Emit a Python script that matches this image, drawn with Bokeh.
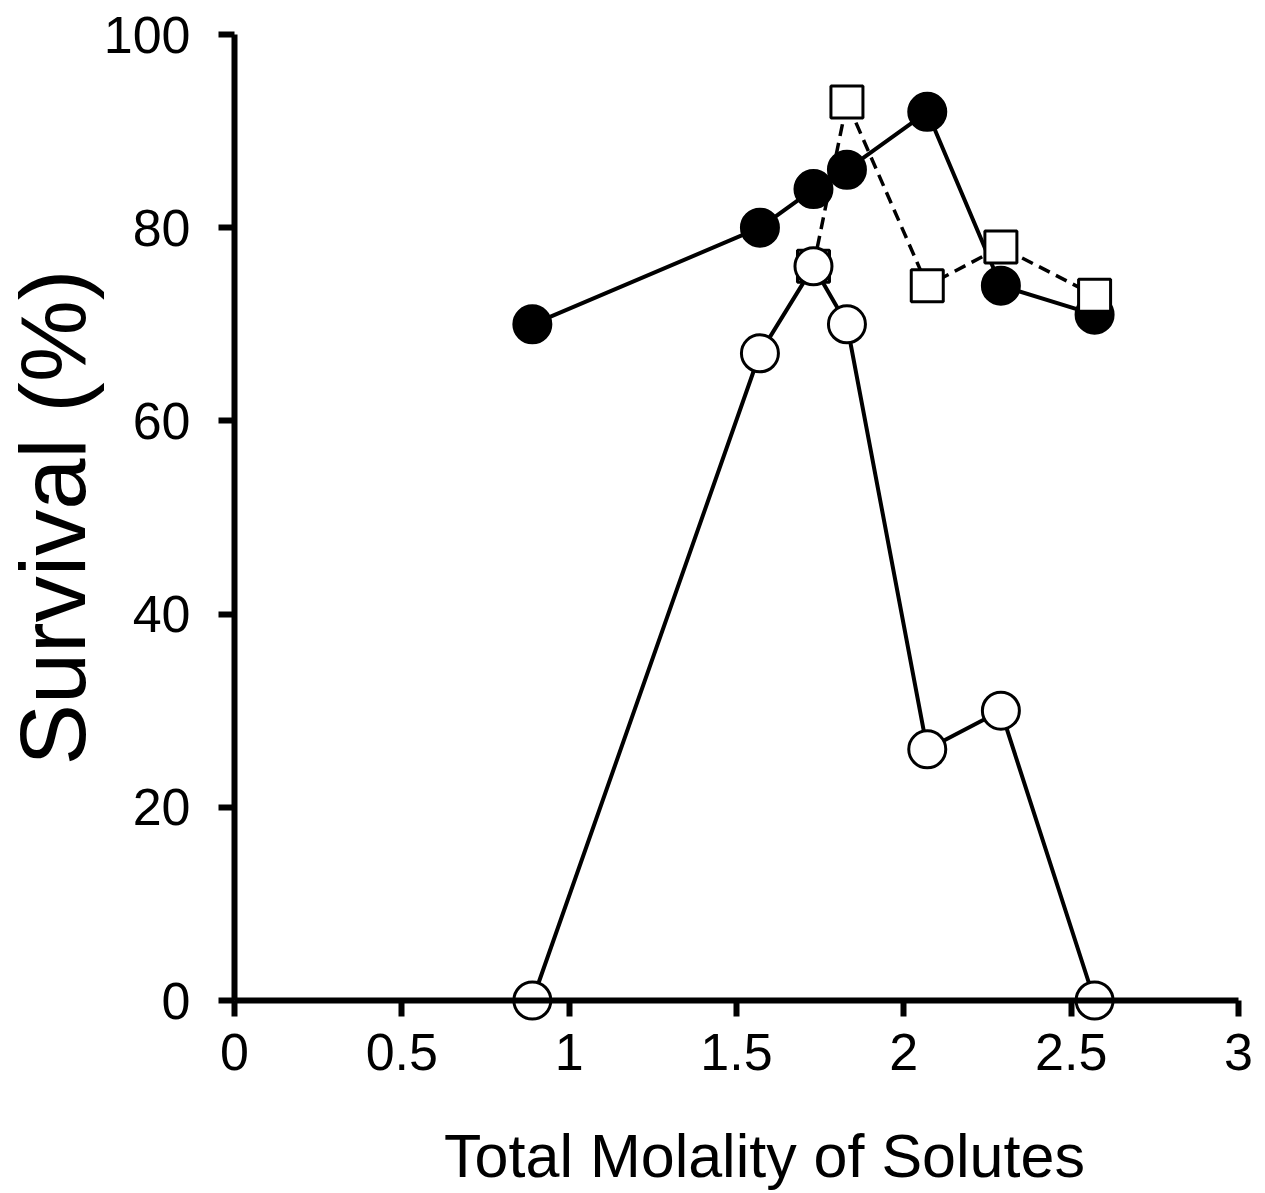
from bokeh.plotting import figure
from bokeh.models import Range1d, FixedTicker, Label
from bokeh.embed import file_html
from bokeh.resources import INLINE

# ---- data ----
x_filled = [0.89, 1.57, 1.73, 1.83, 2.07, 2.29, 2.57]
y_filled = [70, 80, 84, 86, 92, 74, 71]

x_square = [1.73, 1.83, 2.07, 2.29, 2.57]
y_square = [76, 93, 74, 78, 73]

x_open = [0.89, 1.57, 1.73, 1.83, 2.07, 2.29, 2.57]
y_open = [0, 67, 76, 70, 26, 30, 0]

x_ticks = [0, 0.5, 1, 1.5, 2, 2.5, 3]
x_tick_labels = ["0", "0.5", "1", "1.5", "2", "2.5", "3"]
y_ticks = [0, 20, 40, 60, 80, 100]
y_tick_labels = ["0", "20", "40", "60", "80", "100"]

x_title = "Total Molality of Solutes"
y_title = "Survival (%)"

FONT = "Liberation Sans"

# ---- layout (pixels) ----
W, H = 1260, 1192
X0_PX, X3_PX = 234, 1238      # where x=0 and x=3 fall
Y0_PX, Y100_PX = 1000, 34     # where y=0 and y=100 fall
sx = (X3_PX - X0_PX) / 3.0
sy = (Y0_PX - Y100_PX) / 100.0

p = figure(width=W, height=H, output_backend="svg", toolbar_location=None,
           x_range=Range1d(-X0_PX / sx, (W - X0_PX) / sx),
           y_range=Range1d(-(H - Y0_PX) / sy, Y0_PX / sy),
           min_border_left=0, min_border_right=0,
           min_border_top=0, min_border_bottom=0)
p.outline_line_color = None
p.grid.visible = False
p.background_fill_color = "white"
p.border_fill_color = "white"

for ax in (p.xaxis[0], p.yaxis[0]):
    ax.fixed_location = 0
    ax.axis_line_width = 6
    ax.major_tick_line_width = 6
    ax.major_tick_out = 16
    ax.major_tick_in = 0
    ax.minor_tick_line_color = None
    ax.major_label_text_font = FONT
    ax.major_label_text_font_size = "52px"
    ax.major_label_text_color = "black"
    ax.axis_line_color = "black"
    ax.major_tick_line_color = "black"

p.xaxis.ticker = FixedTicker(ticks=x_ticks)
p.xaxis.major_label_overrides = {t: l for t, l in zip(x_ticks, x_tick_labels)}
p.xaxis.bounds = (0, 3)
p.xaxis.major_label_standoff = 17

p.yaxis.ticker = FixedTicker(ticks=y_ticks)
p.yaxis.major_label_overrides = {t: l for t, l in zip(y_ticks, y_tick_labels)}
p.yaxis.bounds = (0, 100)
p.yaxis.major_label_standoff = 28
p.yaxis.axis_label = y_title
p.yaxis.axis_label_text_font = FONT
p.yaxis.axis_label_text_font_size = "92px"
p.yaxis.axis_label_text_font_style = "normal"
p.yaxis.axis_label_text_color = "black"
p.yaxis.axis_label_standoff = -3

p.add_layout(Label(x=(764 - X0_PX) / sx, y=-(1155 - Y0_PX) / sy, text=x_title,
                   text_font=FONT, text_font_size="61px", text_color="black",
                   text_align="center", text_baseline="middle"))

# lines
p.line(x_filled, y_filled, line_color="black", line_width=4)
p.line(x_square, y_square, line_color="black", line_width=3.5, line_dash="12 7")
p.line(x_open, y_open, line_color="black", line_width=4)

# markers
p.scatter(x_filled, y_filled, marker="circle", size=37,
          fill_color="black", line_color="black", line_width=3)
p.scatter(x_square, y_square, marker="square", size=32,
          fill_color="white", line_color="black", line_width=3)
p.scatter(x_open, y_open, marker="circle", size=37,
          fill_color="white", line_color="black", line_width=3)

open("out.html", "w").write(file_html(p, INLINE))
